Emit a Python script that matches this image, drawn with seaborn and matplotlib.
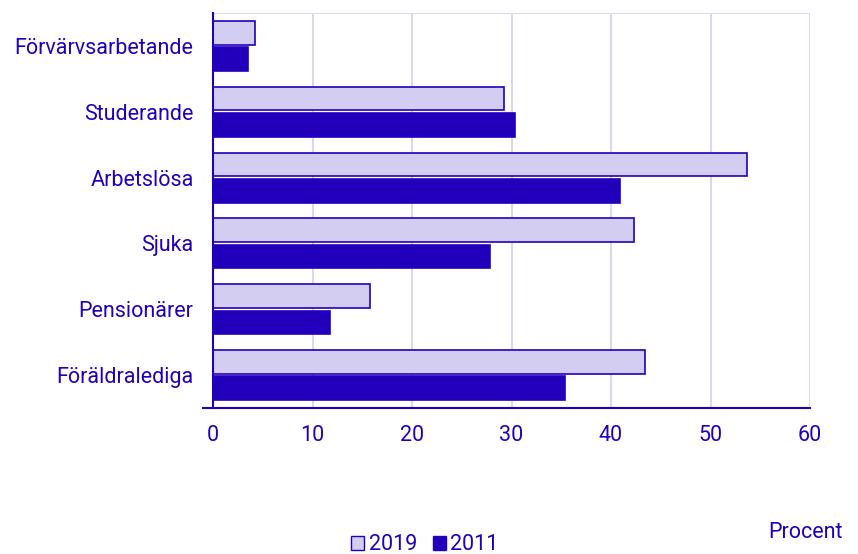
import pandas as pd
import numpy as np
import matplotlib.pyplot as plt
import seaborn as sns
from matplotlib.patches import Patch

categories = ['Förvärvsarbetande', 'Studerande', 'Arbetslösa', 'Sjuka',
              'Pensionärer', 'Föräldralediga']
years = ['2019', '2011']
values_2019 = [4.2, 29.2, 53.7, 42.3, 15.8, 43.4]
values_2011 = [3.5, 30.4, 40.9, 27.8, 11.8, 35.4]

dark = '#2200BB'
light = '#D2CDF1'
grid_col = '#D8D8F0'

df = pd.DataFrame({
    'Kategori': categories * 2,
    'År': [years[0]] * len(categories) + [years[1]] * len(categories),
    'Procent': values_2019 + values_2011,
})

sns.set_style('white')
plt.rcParams['font.family'] = ['Roboto', 'DejaVu Sans']

fig = plt.figure(figsize=(8.58, 5.54), dpi=100)
ax = fig.add_axes([213 / 858, 1 - 408 / 554, 597 / 858, 395 / 554])

sns.barplot(data=df, y='Kategori', x='Procent', hue='År', orient='h',
            order=categories, hue_order=years,
            palette={'2019': light, '2011': dark}, saturation=1,
            width=0.8, gap=0.1, edgecolor=dark, linewidth=1.2,
            legend=False, ax=ax)

ax.set_xlim(0, 60)
ax.set_ylim(len(categories) - 0.5, -0.5)
ax.set_xticks(np.arange(0, 61, 10))
ax.xaxis.grid(True, color=grid_col, linewidth=1.5)
ax.set_axisbelow(True)

# category labels centered, ticks at band boundaries
ax.set_yticks(range(len(categories)))
ax.set_yticks(np.arange(-0.5, len(categories), 1), minor=True)
ax.tick_params(axis='y', which='major', length=0, pad=14, labelsize=15.5,
               labelcolor=dark)
ax.tick_params(axis='y', which='minor', length=6, width=1.5, color=dark,
               direction='out')
ax.tick_params(axis='x', length=7, width=1.5, color=dark, labelsize=15.5,
               labelcolor=dark, pad=5)

ax.set_xlabel('')
ax.set_ylabel('')
for side in ['top', 'right']:
    ax.spines[side].set_visible(False)
ax.spines['left'].set_color(dark)
ax.spines['left'].set_linewidth(1.5)
ax.spines['bottom'].set_color(dark)
ax.spines['bottom'].set_linewidth(1.5)
ax.spines['bottom'].set_bounds(-1, 60)
ax.axhline(-0.5, color=grid_col, linewidth=1.5, zorder=0)

# legend at the bottom
handles = [Patch(facecolor=light, edgecolor=dark, label='2019'),
           Patch(facecolor=dark, edgecolor=dark, label='2011')]
fig.legend(handles=handles, loc='center', bbox_to_anchor=(425 / 858, 1 - 545 / 554),
           ncol=2, frameon=False, fontsize=15.5, labelcolor=dark,
           handlelength=0.6, handleheight=0.6, handletextpad=0.2,
           columnspacing=0.75)

fig.text(805 / 858, 1 - 533 / 554, 'Procent', color=dark, fontsize=15.5,
         ha='center', va='center')

fig.savefig('out.png', dpi=100)
